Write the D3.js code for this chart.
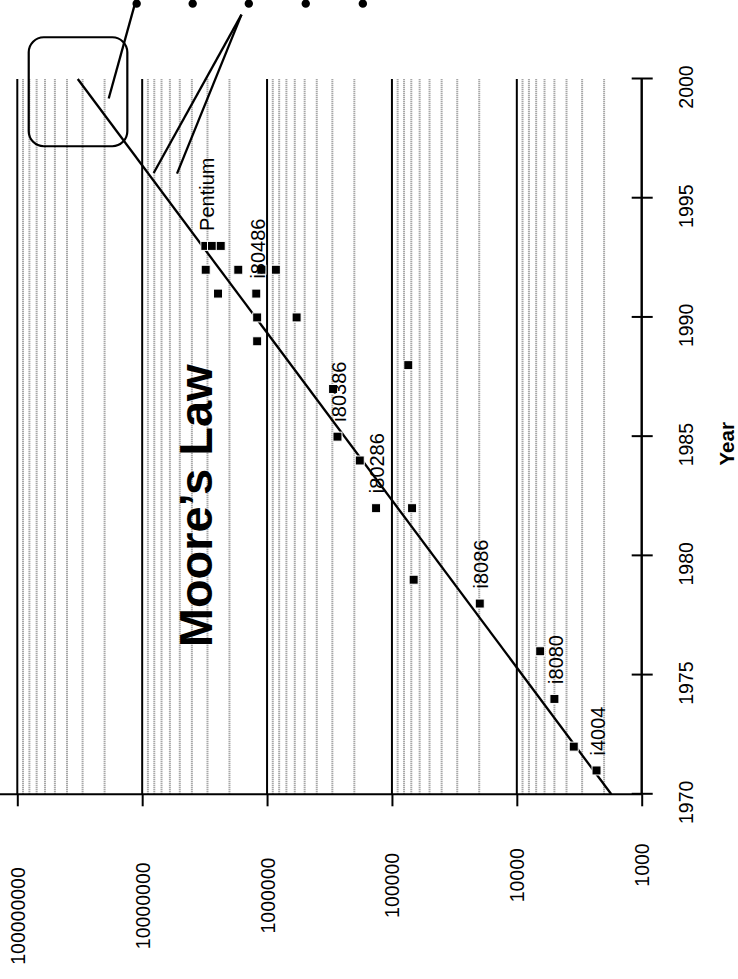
<!DOCTYPE html>
<html>
<head>
<meta charset="utf-8">
<script src="https://cdn.jsdelivr.net/npm/d3@7"></script>
<style>
  body { margin: 0; background: #fff; }
  svg { display: block; font-family: "Liberation Sans", Arial, sans-serif; }
</style>
</head>
<body>
<div id="chart"></div>
<script>
// Chip data (year, transistors)
const years = [1971, 1972, 1974, 1976, 1978, 1979, 1982, 1982, 1984, 1985, 1987, 1988,
               1989, 1990, 1990, 1991, 1991, 1992, 1992, 1992, 1992, 1993, 1993, 1993];
const counts = [2300, 3500, 5000, 6500, 19800, 67000, 134000, 69000, 181000, 273000, 296000, 74000,
                1200000, 1200000, 580000, 2470000, 1220000, 3100000, 1700000, 1110000, 850000, 3120000, 2760000, 2350000];
const chipNames = ["i4004", "", "i8080", "", "i8086", "", "i80286", "", "", "i80386", "", "",
                   "", "", "", "", "i80486", "", "", "", "", "Pentium", "", ""];

const yearTicks = [1970, 1975, 1980, 1985, 1990, 1995, 2000];
const countTicks = [1e3, 1e4, 1e5, 1e6, 1e7, 1e8];

// fitted trend line
const trendYears = [1970, 2000];
const trendCounts = [1750, 32800000];

// the callout in the top corner (box, dots and pointers)
const boxYears = [1997.18, 2001.75];
const boxCounts = [81000000, 13150000];
const dotYear = 2003.16;
const dotCounts = [11070000, 3940000, 1400000, 490000, 171000];
const pointerFrom = [[2003.12, 11480000], [2002.7, 1603000], [2002.7, 1603000]];
const pointerTo = [[1999.18, 18540000], [1996.06, 8090000], [1996.03, 5260000]];

const W = 738, H = 979;

let svg = d3.select("#chart").append("svg")
    .attr("width", W)
    .attr("height", H);

// whole chart is drawn upright then turned a quarter to the left
let g = svg.append("g").attr("transform", "translate(0," + H + ") rotate(-90)");

var x = d3.scaleLinear().domain([1970, 2000]).range([184.7, 900]);
var y = d3.scaleLog().domain([1e3, 1e8]).range([641.7, 17.3]);

// minor grid
let minor = [];
countTicks.slice(0, -1).forEach(function(d) {
    for (let k = 2; k <= 9; k++) minor.push(d * k);
});
g.append("g").selectAll("line").data(minor).join("line")
    .attr("x1", x(1970)).attr("x2", x(2000))
    .attr("y1", d => y(d)).attr("y2", d => y(d))
    .attr("stroke", "#8a8a8a")
    .attr("stroke-width", 2)
    .attr("stroke-dasharray", "1,1");

// major grid
g.append("g").selectAll("line").data(countTicks).join("line")
    .attr("x1", x(1970)).attr("x2", x(2000))
    .attr("y1", d => y(d)).attr("y2", d => y(d))
    .attr("stroke", "#000")
    .attr("stroke-width", 2);

// count axis (left in upright frame)
let yAxis = g.append("g")
    .attr("transform", "translate(" + x(1970) + ",0)")
    .call(d3.axisLeft(y).tickValues(countTicks).tickSize(12).tickFormat(d3.format("d")));
yAxis.select(".domain").remove();
yAxis.append("line")
    .attr("y1", 0).attr("y2", y(1e3))
    .attr("stroke", "#000").attr("stroke-width", 2);
yAxis.selectAll(".tick line").attr("stroke-width", 2);
yAxis.selectAll(".tick text")
    .attr("font-size", "19.5px")
    .attr("font-family", "Liberation Sans, Arial, sans-serif")
    .attr("fill", "#000")
    .attr("text-anchor", "middle")
    .attr("dy", "0.36em")
    .attr("x", d => 114 - 10.2 * (Math.log10(d) - 3) - x(1970));

// year axis (bottom in upright frame)
let xAxis = g.append("g")
    .attr("transform", "translate(0," + y(1e3) + ")")
    .call(d3.axisBottom(x).tickValues(yearTicks).tickSize(10).tickFormat(d3.format("d")));
xAxis.select(".domain").attr("stroke-width", 2).attr("d", "M" + x(1970) + ",0H" + x(2000));
xAxis.selectAll(".tick line").attr("y1", -10).attr("y2", 11).attr("stroke-width", 2);
xAxis.selectAll(".tick text")
    .attr("font-size", "19.5px")
    .attr("font-family", "Liberation Sans, Arial, sans-serif")
    .attr("fill", "#000")
    .attr("dy", 0)
    .attr("dx", -8.5)
    .attr("y", 51.5);

g.append("text")
    .attr("x", x(1984.7))
    .attr("y", 734)
    .attr("text-anchor", "middle")
    .attr("font-weight", "bold")
    .attr("font-size", "20.5px")
    .text("Year");

// title
g.append("text")
    .attr("x", x(1982.1))
    .attr("y", 212)
    .attr("text-anchor", "middle")
    .attr("font-weight", "bold")
    .attr("font-size", "47px")
    .text("Moore\u2019s Law");

// trend line
let line = d3.line()
    .x(d => x(d[0]))
    .y(d => y(d[1]));
g.append("path")
    .datum(d3.zip(trendYears, trendCounts))
    .attr("d", line)
    .attr("fill", "none")
    .attr("stroke", "#000")
    .attr("stroke-width", 2.3);

// chips
let pts = d3.zip(years, counts, chipNames);
g.append("g").selectAll("rect").data(pts).join("rect")
    .attr("x", d => x(d[0]) - 4.5)
    .attr("y", d => y(d[1]) - 4.5)
    .attr("width", 9).attr("height", 9)
    .attr("fill", "#000")
    .attr("stroke", "#fff")
    .attr("stroke-width", 1);

g.append("g").selectAll("text").data(pts.filter(d => d[2] !== "")).join("text")
    .attr("x", d => x(d[0]) + 15)
    .attr("y", d => y(d[1]))
    .attr("dy", "0.42em")
    .attr("font-size", "20px")
    .text(d => d[2]);

// callout
let bx0 = x(boxYears[0]), bx1 = x(boxYears[1]);
let by0 = y(boxCounts[0]), by1 = y(boxCounts[1]);
g.append("rect")
    .attr("x", bx0).attr("y", by0)
    .attr("width", bx1 - bx0).attr("height", by1 - by0)
    .attr("rx", 15).attr("ry", 15)
    .attr("fill", "none")
    .attr("stroke", "#000")
    .attr("stroke-width", 2.2);

g.append("g").selectAll("line").data(d3.zip(pointerFrom, pointerTo)).join("line")
    .attr("x1", d => x(d[0][0])).attr("y1", d => y(d[0][1]))
    .attr("x2", d => x(d[1][0])).attr("y2", d => y(d[1][1]))
    .attr("stroke", "#000")
    .attr("stroke-width", 2.3);

g.append("g").selectAll("circle").data(dotCounts).join("circle")
    .attr("cx", x(dotYear))
    .attr("cy", d => y(d))
    .attr("r", 4.2)
    .attr("fill", "#000");
</script>
</body>
</html>
